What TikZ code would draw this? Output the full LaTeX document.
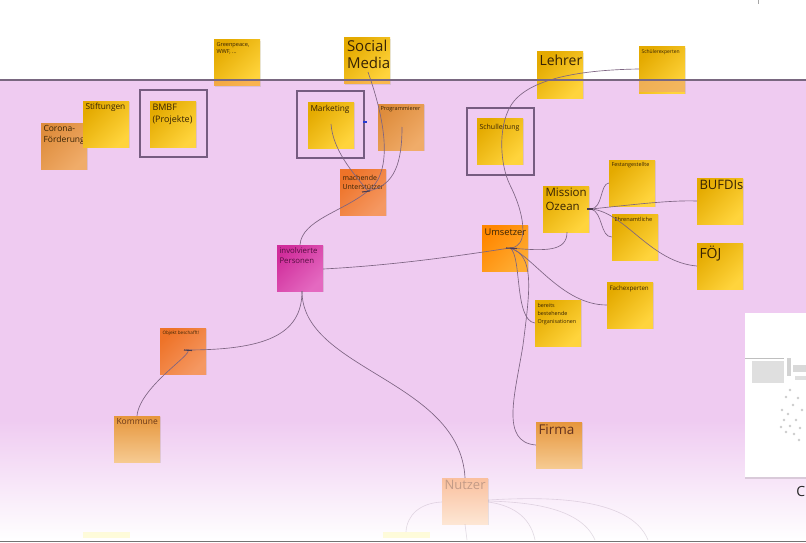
\documentclass[tikz,border=0pt]{standalone}
\usepackage{fontspec}
\setmainfont{Open Sans}
\usetikzlibrary{shadows,calc}
\definecolor{pinkbg}{RGB}{239,203,241}
\definecolor{yA}{RGB}{228,170,0}
\definecolor{yB}{RGB}{255,212,60}
\definecolor{oA}{RGB}{255,135,0}
\definecolor{oB}{RGB}{255,172,50}
\definecolor{rA}{RGB}{238,115,40}
\definecolor{rB}{RGB}{245,152,98}
\definecolor{pA}{RGB}{222,140,60}
\definecolor{pB}{RGB}{240,172,105}
\definecolor{kA}{RGB}{230,150,60}
\definecolor{kB}{RGB}{246,202,145}
\definecolor{mA}{RGB}{208,45,155}
\definecolor{mB}{RGB}{228,105,192}
\definecolor{nA}{RGB}{250,192,158}
\definecolor{nB}{RGB}{253,230,212}
\definecolor{txt}{RGB}{55,35,5}
\definecolor{linec}{RGB}{125,100,130}
\definecolor{framec}{RGB}{118,92,128}
\newcommand\fs[2]{\fontsize{#1}{#2}\selectfont}
\tikzset{
  note/.style={minimum width=46, minimum height=46, inner sep=0pt,
    drop shadow={shadow xshift=1.2pt, shadow yshift=-1.2pt, opacity=.18}},
  yel/.style={top color=yA, bottom color=yB, shading angle=45},
  ora/.style={top color=oA, bottom color=oB, shading angle=45},
  red/.style={top color=rA, bottom color=rB, shading angle=45},
  pal/.style={top color=pA, bottom color=pB, shading angle=45},
  kom/.style={top color=kA, bottom color=kB},
  mag/.style={top color=mA, bottom color=mB, shading angle=45},
  nut/.style={top color=nA, bottom color=nB},
  lb/.style={anchor=north west, inner sep=0pt, align=left, text=txt, xshift=2.5pt, yshift=-2.5pt},
  conn/.style={draw=linec, line width=0.65pt},
  faint/.style={draw=linec, line width=0.6pt, opacity=.22},
  hubmark/.style={draw=linec!60!black, line width=1.1pt},
  frame/.style={draw=framec, line width=1.2pt},
}
\begin{document}
\begin{tikzpicture}[x=1pt,y=-1pt]
\useasboundingbox (0,0) rectangle (806,543);
% background
\fill[white] (0,0) rectangle (806,543);
\fill[pinkbg] (0,80) rectangle (806,420);
\shade[top color=pinkbg, bottom color=white] (0,420) rectangle (806,541);
\draw[gray!70, line width=1pt] (758,0) -- (758,4);

% faded notes at bottom
\node[fill=yellow!40!white, opacity=.35, minimum width=47, minimum height=6, inner sep=0pt] (fadeA) at (106,535) {};
\node[fill=yellow!40!white, opacity=.35, minimum width=47, minimum height=6, inner sep=0pt] (fadeB) at (406,535) {};

% notes above the line
\node[note, yel, label={[lb, font=\fs{5.6}{6.6}]north west:{Greenpeace,\\WWF, ...}}] (greenpeace) at (237,63) {};
\node[note, yel, label={[lb, font=\fs{15}{17}, xshift=0.5pt, yshift=0.5pt]north west:{Social\\Media}}] (social) at (367,61) {};
\node[note, yel, label={[lb, font=\fs{14}{16}]north west:{Lehrer}}] (lehrer) at (560,75) {};
\node[note, yel, label={[lb, font=\fs{5}{6}]north west:{Schülerexperten}}] (schuelerexp) at (662,70) {};
\fill[rB, opacity=.55] (214,81) rectangle (260,86);
\fill[rB, opacity=.45] (344,81) rectangle (390,84);
\fill[pB, opacity=.75] (639,81) rectangle (685,92);

\draw[line width=1.4pt, draw=framec!70!gray] (0,80) -- (806,80);
\draw[gray!90!black, line width=1.6pt] (0,541.5) -- (806,541.5);

% left group
\node[note, pal, label={[lb, font=\fs{8.5}{11}]north west:{Corona-\\Förderung}}] (corona) at (64,146) {};
\node[note, yel, label={[lb, font=\fs{8.3}{10}]north west:{Stiftungen}}] (stift) at (106,124) {};
\node[note, yel, label={[lb, font=\fs{9}{11.5}, yshift=-1pt]north west:{BMBF\\(Projekte)}}] (bmbf) at (173,124) {};
\node[frame, minimum width=67, minimum height=67, inner sep=0pt] (bmbfframe) at (173.5,123.5) {};

% marketing group
\node[note, yel, label={[lb, font=\fs{8.3}{10}, yshift=-1pt]north west:{Marketing}}] (marketing) at (331,125) {};
\node[frame, minimum width=67, minimum height=67, inner sep=0pt] (mktframe) at (330.5,124.5) {};
\node[fill={rgb,255:red,40;green,60;blue,210}, minimum width=4, minimum height=2.5, inner sep=0pt] (bluemark) at (365,122) {};
\node[note, pal, label={[lb, font=\fs{5.6}{6.6}]north west:{Programmierer}}] (prog) at (401,127) {};
\node[note, red, label={[lb, font=\fs{7}{9.5}, yshift=-3.5pt]north west:{machende\\Unterstützer}}] (machende) at (363,192) {};

% school group
\node[note, yel, label={[lb, font=\fs{7}{9}, yshift=-4pt]north west:{Schulleitung}}] (schul) at (500,141) {};
\node[frame, minimum width=67, minimum height=67, inner sep=0pt] (schulframe) at (500.5,141.5) {};

% mission ozean group
\node[note, yel, label={[lb, font=\fs{11.5}{14}]north west:{Mission\\Ozean}}] (mission) at (566,209) {};
\node[note, yel, label={[lb, font=\fs{5.4}{6.4}]north west:{Festangestellte}}] (fest) at (632,183) {};
\node[note, yel, label={[lb, font=\fs{5.6}{6.6}, yshift=-1pt]north west:{Ehrenamtliche}}] (ehren) at (635,237) {};
\node[note, yel, label={[lb, font=\fs{13}{15}]north west:{BUFDIs}}] (bufdis) at (720,201) {};
\node[note, yel, label={[lb, font=\fs{14}{16}]north west:{FÖJ}}] (foej) at (720,266) {};
\node[note, ora, label={[lb, font=\fs{9.3}{11}, yshift=-1.5pt]north west:{Umsetzer}}] (umsetzer) at (505,248) {};
\node[note, yel, label={[lb, font=\fs{6.2}{7.2}, yshift=-1pt]north west:{Fachexperten}}] (fachexp) at (630,305) {};
\node[note, yel, label={[lb, font=\fs{5.4}{8}, yshift=-1pt]north west:{bereits\\bestehende\\Organisationen}}] (bereits) at (558,323) {};

% lower left
\node[note, mag, label={[lb, font=\fs{7.8}{10.5}, text={rgb,255:red,85;green,15;blue,65}]north west:{involvierte\\Personen}}] (invol) at (300,268) {};
\node[note, red, label={[lb, font=\fs{4.6}{5.5}]north west:{Objekt beschafft!}}] (gepacht) at (183,351) {};
\node[note, kom, label={[lb, font=\fs{8.5}{10}, text={rgb,255:red,105;green,55;blue,25}]north west:{Kommune}}] (kommune) at (137,439) {};
\node[note, kom, label={[lb, font=\fs{13.5}{15}, text={rgb,255:red,100;green,50;blue,30}]north west:{Firma}}] (firma) at (559,445) {};
\node[note, nut, drop shadow={opacity=0}, label={[lb, font=\fs{13}{15}, text={rgb,255:red,195;green,155;blue,135}]north west:{Nutzer}}] (nutzer) at (465,501) {};

% minimap panel
\node[fill=white, minimum width=70, minimum height=164, inner sep=0pt,
  drop shadow={shadow xshift=0pt, shadow yshift=-1.5pt, opacity=.25}, anchor=north west] (minimap) at (745,313) {};
\fill[gray!25] (752,361) rectangle (784,383);
\draw[gray!50, line width=1pt] (745,358) -- (784,358);
\fill[gray!35] (787,358) rectangle (791,376);
\fill[gray!30] (793,365) rectangle (806,372);
\fill[gray!25] (795,376) rectangle (806,380);
\foreach \p in {(790,390),(786,397),(793,405),(782,410),(788,414),(798,398),(784,420),(790,426),(796,420),(786,432),(794,434),(800,428),(781,427),(802,410),(799,440)}
  \fill[gray!40] \p circle (1.3);
\node[anchor=north east, inner sep=0pt, font=\fs{14}{16}, text=black!85] (cletter) at (805.5,486) {C};

% hubs
\coordinate (mhub) at (368,191);
\coordinate (uhub) at (510,248);
\coordinate (ohub) at (591,209);
\coordinate (ghub) at (186,350);

% connectors
\draw[conn] ($(social.center)+(1,11)$) .. controls (385,120) and (394,172) .. (mhub);
\draw[conn] ($(marketing.center)+(0,-1)$) .. controls (333,150) and (352,172) .. (mhub);
\draw[conn] ($(prog.center)+(1,0)$) .. controls (402,162) and (395,186) .. (mhub);
\draw[conn] (mhub) .. controls (342,212) and (302,220) .. (invol.north);
\draw[conn] ($(invol.east)+(0,1)$) .. controls (400,265) and (470,254) .. (uhub);
\draw[conn] ($(schuelerexp.west)+(0,-1)$) .. controls (575,70) and (525,80) .. (510,107)
   .. controls (498,128) and (500,165) .. (510,185)
   .. controls (520,205) and (525,225) .. (522,238)
   .. controls (520,245) and (515,248) .. (uhub);
\draw[conn] (uhub) .. controls (545,251) and (567,252) .. ($(mission.south)+(1,0)$);
\draw[conn] (ohub) .. controls (603,208) and (600,184) .. (fest.west);
\draw[conn] (ohub) .. controls (630,205) and (670,200) .. (bufdis.west);
\draw[conn] (ohub) .. controls (603,212) and (600,237) .. (ehren.west);
\draw[conn] (ohub) .. controls (625,212) and (650,262) .. (foej.west);
\draw[conn] (uhub) .. controls (532,255) and (562,305) .. (fachexp.west);
\draw[conn] (uhub) .. controls (522,255) and (514,320) .. (bereits.west);
\draw[conn] (uhub) .. controls (535,255) and (530,290) .. (523,345)
   .. controls (515,395) and (500,442) .. (firma.west);
\draw[conn] ($(invol.south)+(2,0)$) .. controls (302,335) and (265,350) .. (ghub);
\draw[conn] (ghub) .. controls (200,350) and (140,385) .. (kommune.north);
\draw[conn] ($(invol.south)+(2,0)$) .. controls (302,370) and (460,380) .. (nutzer.north);
\draw[faint] ($(nutzer.west)+(0,1)$) .. controls (420,503) and (407,515) .. (fadeB.north);
\draw[faint] ($(nutzer.east)+(0,-1)$) .. controls (540,497) and (630,495) .. (648,540);
\draw[faint] (nutzer.east) .. controls (520,502) and (580,505) .. (595,540);
\draw[faint] ($(nutzer.east)+(0,1)$) .. controls (510,505) and (530,515) .. (535,540);
\draw[faint] (nutzer.south) -- (467,540);

% hub marks
\draw[hubmark] (362,192) -- (370,191);
\draw[hubmark] (506,248) -- (517,248.5);
\draw[hubmark] (587,209) -- (593,209);
\draw[hubmark] (184,350) -- (192,350.5);
\end{tikzpicture}
\end{document}
